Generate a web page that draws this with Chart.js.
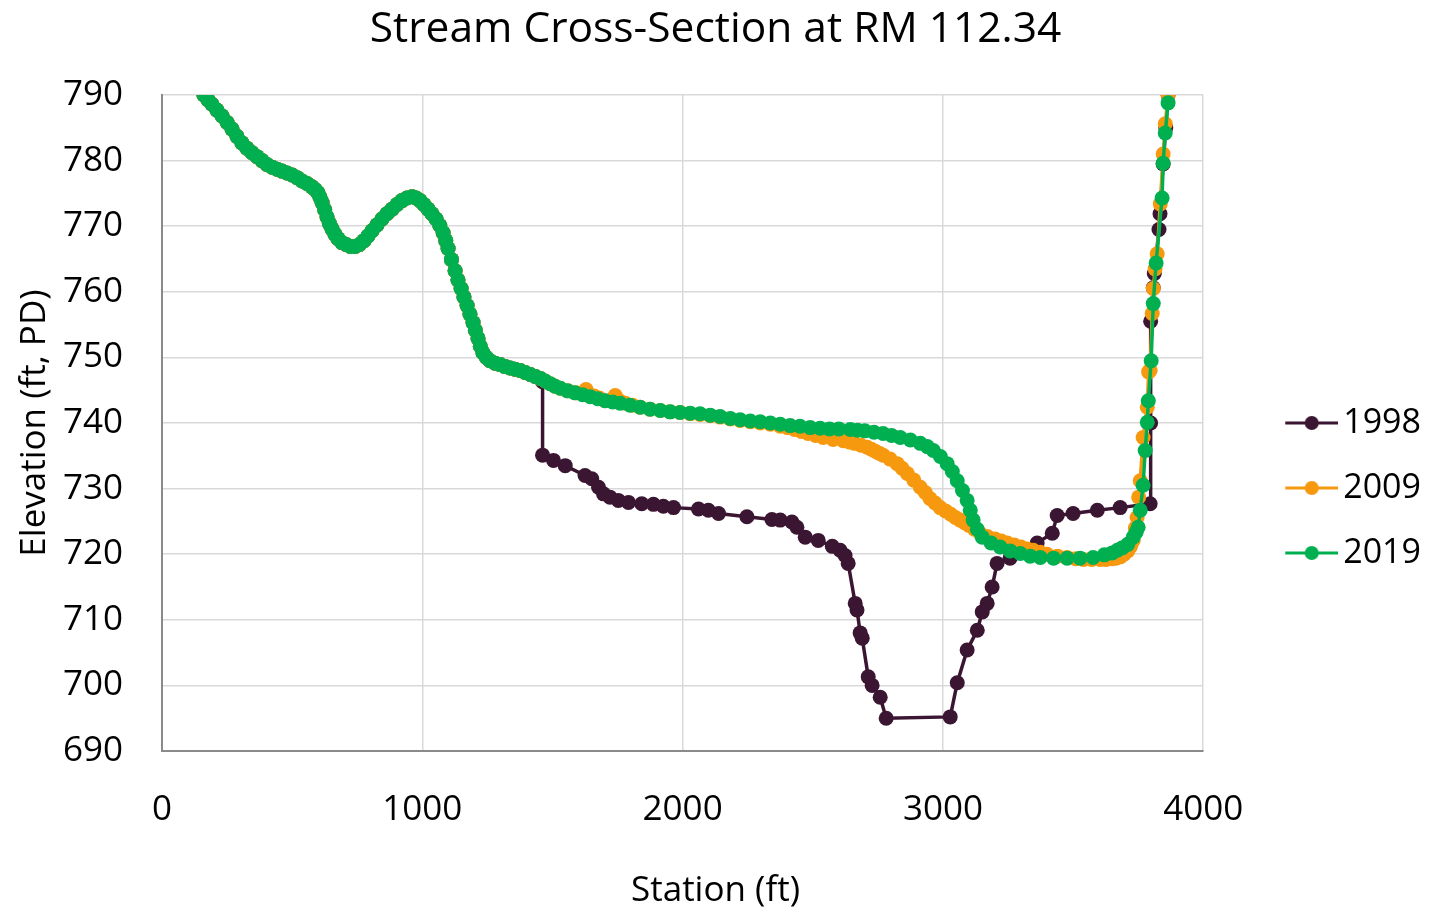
<!DOCTYPE html>
<html>
<head>
<meta charset="utf-8">
<title>Stream Cross-Section at RM 112.34</title>
<script src="https://cdn.jsdelivr.net/npm/chart.js@4.4.1/dist/chart.umd.min.js"></script>
<style>
  html, body { margin: 0; padding: 0; background: #ffffff; }
  #wrap { width: 1450px; height: 912px; }
</style>
</head>
<body>
<div id="wrap"><canvas id="chart" width="1450" height="912"></canvas></div>
<script>
// Survey years and series colours
const surveyYears = ['1998', '2009', '2019'];
const seriesColors = ['#3B1632', '#F7990F', '#00B050'];

// Axis ticks
const stationTicks = [0, 1000, 2000, 3000, 4000];
const elevationTicks = [690, 700, 710, 720, 730, 740, 750, 760, 770, 780, 790];

// Left overbank profile (identical in all three surveys): station (ft), elevation (ft, PD)
const bankStations = [161, 176, 192, 211, 231, 250, 269, 288, 307, 326, 346, 365, 384, 403, 423, 442, 461, 480, 500, 519,
  538, 557, 576, 588, 599, 607, 615, 625, 634, 643, 653, 664, 676, 691, 707, 724, 742, 759, 776, 791,
  807, 826, 845, 864, 884, 903, 922, 941, 961, 976, 991, 1006, 1022, 1037, 1053, 1067, 1080, 1090, 1099, 1112,
  1126, 1137, 1149, 1160, 1172, 1183, 1195, 1204, 1214, 1223, 1233, 1246, 1260, 1280, 1299, 1318, 1337, 1356, 1376, 1395,
  1415, 1434, 1453];
const bankElev = [790.0, 789.3, 788.6, 787.7, 786.8, 785.8, 784.8, 783.7, 782.7, 781.9, 781.2, 780.6, 780.0, 779.4, 779.0, 778.7, 778.4, 778.1, 777.8, 777.4,
  776.9, 776.5, 776.0, 775.6, 775.1, 774.4, 773.6, 772.5, 771.4, 770.4, 769.6, 768.8, 768.1, 767.5, 767.2, 766.9, 766.9, 767.2, 767.8, 768.5,
  769.3, 770.2, 771.1, 771.9, 772.6, 773.3, 773.9, 774.3, 774.5, 774.3, 773.9, 773.3, 772.6, 771.9, 771.1, 770.1, 769.0, 767.8, 766.6, 764.9,
  763.2, 761.8, 760.5, 759.2, 757.9, 756.6, 755.3, 754.1, 752.9, 751.7, 750.7, 750.0, 749.5, 749.1, 748.9, 748.6, 748.4, 748.2, 748.0, 747.7,
  747.4, 747.1, 746.8];

// 1998 survey, from the scarp to the right bank
const stations1998 = [1462, 1462, 1504, 1549, 1625, 1651, 1677, 1696, 1721, 1753, 1792, 1843, 1888, 1926, 1965, 2061, 2099, 2138, 2247, 2343,
  2375, 2420, 2439, 2471, 2521, 2575, 2605, 2624, 2636, 2663, 2670, 2682, 2690, 2713, 2728, 2759, 2782, 3028, 3055, 3093,
  3132, 3151, 3170, 3189, 3208, 3258, 3335, 3362, 3420, 3439, 3500, 3593, 3681, 3796, 3798, 3798, 3808, 3812, 3830, 3834,
  3846, 3856, 3865];
const elev1998 = [746.3, 735.1, 734.3, 733.5, 732.0, 731.5, 730.2, 729.2, 728.7, 728.2, 727.9, 727.7, 727.6, 727.3, 727.1, 726.9, 726.7, 726.2, 725.7, 725.3,
  725.2, 724.9, 724.1, 722.6, 722.1, 721.2, 720.6, 719.8, 718.6, 712.5, 711.5, 708.0, 707.2, 701.3, 700.0, 698.2, 695.0, 695.2, 700.4, 705.4,
  708.4, 711.2, 712.5, 715.0, 718.6, 719.4, 720.6, 721.7, 723.2, 725.9, 726.2, 726.7, 727.1, 727.7, 740.0, 755.5, 760.6, 762.8, 769.5, 771.9,
  779.5, 785.0, 790.0];

// 2009 survey, right of the shared overbank
const stations2009 = [1472, 1491, 1510, 1530, 1560, 1590, 1629, 1660, 1680, 1702, 1741, 1760, 1780, 1808, 1837, 1875, 1914, 1952, 1990, 2029,
  2067, 2106, 2144, 2183, 2221, 2260, 2298, 2337, 2375, 2403, 2430, 2456, 2482, 2511, 2540, 2578, 2617, 2640, 2660, 2685,
  2709, 2725, 2740, 2755, 2770, 2797, 2824, 2843, 2863, 2888, 2913, 2932, 2950, 2970, 2989, 3010, 3030, 3048, 3066, 3083,
  3100, 3121, 3143, 3170, 3200, 3224, 3247, 3274, 3300, 3324, 3347, 3374, 3400, 3440, 3477, 3510, 3540, 3572, 3604, 3627,
  3650, 3665, 3681, 3696, 3710, 3721, 3731, 3739, 3746, 3752, 3758, 3769, 3785, 3790, 3796, 3804, 3808, 3815, 3823, 3835,
  3846, 3854, 3865];
const elev2009 = [746.4, 746.0, 745.6, 745.3, 744.9, 744.6, 745.1, 744.1, 743.8, 743.4, 744.2, 743.3, 743.0, 742.7, 742.4, 742.1, 741.9, 741.7, 741.6, 741.4,
  741.3, 741.1, 740.9, 740.6, 740.4, 740.2, 740.0, 739.8, 739.5, 739.3, 739.0, 738.7, 738.4, 738.1, 737.8, 737.5, 737.3, 737.1, 736.9, 736.6,
  736.3, 736.0, 735.7, 735.4, 735.1, 734.5, 733.8, 733.1, 732.3, 731.3, 730.2, 729.4, 728.5, 727.8, 727.1, 726.6, 726.1, 725.6, 725.2, 724.8,
  724.4, 723.8, 723.2, 722.7, 722.3, 722.0, 721.7, 721.4, 721.1, 720.8, 720.6, 720.3, 720.0, 719.7, 719.5, 719.3, 719.2, 719.2, 719.2, 719.2,
  719.3, 719.4, 719.6, 720.0, 720.5, 721.2, 722.1, 724.0, 725.6, 728.7, 731.2, 737.8, 742.4, 747.8, 748.0, 756.7, 760.5, 763.5, 765.8, 773.4,
  781.0, 785.6, 790.0];

// 2019 survey, right of the shared overbank
const stations2019 = [1472, 1491, 1510, 1530, 1558, 1587, 1616, 1645, 1674, 1702, 1731, 1760, 1798, 1837, 1875, 1914, 1952, 1990, 2029, 2067,
  2106, 2144, 2183, 2221, 2260, 2298, 2337, 2375, 2413, 2451, 2490, 2528, 2564, 2600, 2644, 2672, 2700, 2735, 2770, 2803,
  2836, 2875, 2913, 2940, 2963, 2990, 3016, 3036, 3055, 3075, 3093, 3105, 3116, 3132, 3151, 3185, 3220, 3258, 3297, 3335,
  3374, 3425, 3477, 3527, 3577, 3620, 3650, 3670, 3690, 3710, 3731, 3742, 3750, 3758, 3769, 3777, 3785, 3789, 3800, 3808,
  3819, 3842, 3846, 3854, 3865];
const elev2019 = [746.4, 746.0, 745.6, 745.3, 744.9, 744.6, 744.3, 744.0, 743.7, 743.4, 743.2, 743.0, 742.7, 742.4, 742.1, 741.9, 741.7, 741.6, 741.5, 741.4,
  741.2, 741.0, 740.7, 740.5, 740.3, 740.2, 740.0, 739.8, 739.6, 739.5, 739.3, 739.2, 739.1, 739.1, 739.0, 738.9, 738.8, 738.6, 738.4, 738.1,
  737.8, 737.4, 736.9, 736.4, 735.8, 734.9, 733.8, 732.6, 731.2, 729.7, 728.2, 726.7, 725.2, 723.8, 722.6, 721.7, 721.1, 720.5, 720.1, 719.7,
  719.5, 719.4, 719.4, 719.4, 719.5, 719.9, 720.2, 720.6, 721.0, 721.5, 722.6, 723.3, 724.1, 726.7, 730.5, 735.8, 740.1, 743.4, 749.5, 758.2,
  764.4, 774.3, 779.6, 784.2, 788.8];

const FONT = '"Open Sans", "Noto Sans", sans-serif';
Chart.defaults.font.family = FONT;
Chart.defaults.color = '#000000';

function toPoints(xs, ys) {
  return xs.map((x, i) => ({ x: x, y: ys[i] }));
}

// Legend marker: a short line with a dot in the middle, drawn on a small canvas
function legendIcon(color) {
  const c = document.createElement('canvas');
  c.width = 116; c.height = 18;
  const g = c.getContext('2d');
  g.strokeStyle = color; g.lineWidth = 3;
  g.beginPath(); g.moveTo(63, 9); g.lineTo(116, 9); g.stroke();
  g.fillStyle = color;
  g.beginPath(); g.arc(89.5, 9, 7, 0, Math.PI * 2); g.fill();
  return c;
}
const legendIcons = seriesColors.map(legendIcon);

const bank = toPoints(bankStations, bankElev);
const seriesData = [
  bank.concat(toPoints(stations1998, elev1998)),
  bank.concat(toPoints(stations2009, elev2009)),
  bank.concat(toPoints(stations2019, elev2019))
];

const datasets = surveyYears.map((yr, i) => ({
  label: yr,
  data: seriesData[i],
  showLine: true,
  borderColor: seriesColors[i],
  backgroundColor: seriesColors[i],
  borderWidth: 3.5,
  pointRadius: 7.5,
  pointHoverRadius: 7.5,
  pointBorderWidth: 0,
  pointBackgroundColor: seriesColors[i],
  pointBorderColor: seriesColors[i],
  tension: 0,
  fill: false,
  order: surveyYears.length - 1 - i   // later surveys drawn on top
}));

const gridStyle = { color: '#d9d9d9', lineWidth: 1.5, drawTicks: false };
const axisBorder = { color: '#8a8a8a', width: 2 };
const plainNumber = (v) => String(v);

new Chart(document.getElementById('chart'), {
  type: 'scatter',
  data: { datasets: datasets },
  options: {
    responsive: false,
    animation: false,
    layout: { padding: { left: 0, right: 19, top: 0, bottom: 0 } },
    scales: {
      x: {
        type: 'linear',
        min: stationTicks[0],
        max: stationTicks[stationTicks.length - 1],
        afterBuildTicks: (s) => { s.ticks = stationTicks.map(v => ({ value: v })); },
        afterFit: (s) => { s.height = 119; },
        ticks: { padding: 38, font: { size: 35 }, color: '#000', callback: plainNumber },
        grid: gridStyle,
        border: axisBorder
      },
      y: {
        type: 'linear',
        min: elevationTicks[0],
        max: elevationTicks[elevationTicks.length - 1],
        afterBuildTicks: (s) => { s.ticks = elevationTicks.map(v => ({ value: v })); },
        afterFit: (s) => { s.width = 162; },
        ticks: { padding: 39, font: { size: 35 }, color: '#000', callback: plainNumber },
        grid: gridStyle,
        border: axisBorder,
        title: {
          display: true,
          text: 'Elevation (ft, PD)',
          font: { size: 35 },
          color: '#000',
          padding: { top: 14, bottom: 0 }
        }
      }
    },
    plugins: {
      tooltip: { enabled: false },
      title: {
        display: true,
        text: 'Stream Cross-Section at RM 112.34',
        font: { size: 42.5, weight: 'normal' },
        color: '#000',
        padding: { top: 4, bottom: 40 }
      },
      subtitle: {
        display: true,
        position: 'bottom',
        text: 'Station (ft)',
        font: { size: 35, weight: 'normal' },
        color: '#000',
        padding: { top: 0, bottom: 0 }
      },
      legend: {
        display: true,
        position: 'right',
        align: 'center',
        title: { display: true, text: '', font: { size: 10, lineHeight: 1 }, padding: { top: 27, bottom: 27 } },
        labels: {
          usePointStyle: true,
          pointStyleWidth: 92,
          padding: 31,
          color: '#000',
          font: { size: 34 },
          sort: (a, b) => a.datasetIndex - b.datasetIndex,
          generateLabels: (chart) =>
            Chart.defaults.plugins.legend.labels.generateLabels(chart).map(item => {
              item.pointStyle = legendIcons[item.datasetIndex];
              return item;
            })
        }
      }
    }
  }
});
</script>
</body>
</html>
